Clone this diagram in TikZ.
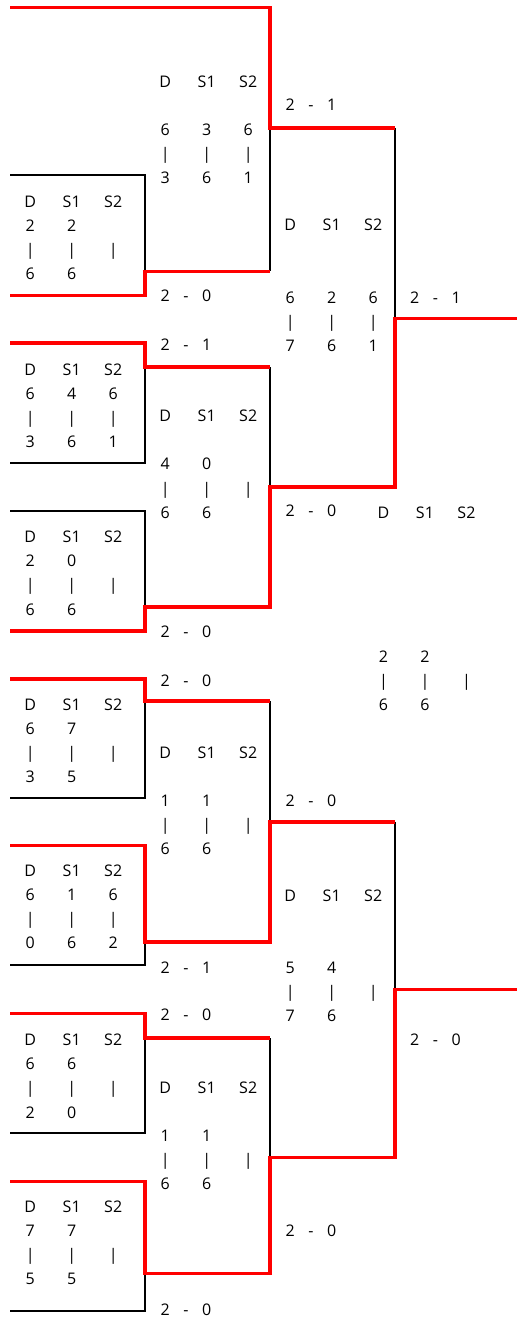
\documentclass[tikz,border=0pt]{standalone}
\usepackage{fontspec}
\setmainfont{Open Sans}
\usepackage{array}
\setlength\tabcolsep{0pt}
\newcolumntype{C}{w{c}{41.5pt}}
\newcommand\setscore[2]{\makebox[20.75pt]{#1}\makebox[20.75pt]{-}\makebox[20.75pt]{#2}}
\begin{document}
\begin{tikzpicture}[x=1pt,y=-1pt,
    every node/.style={font=\fontsize{16}{24.1}\selectfont,inner sep=0pt,anchor=base west},
    win/.style={red,line width=3.3pt},
    lose/.style={black,line width=2pt}]
    \useasboundingbox (0,0) rectangle (517,1321);
    \draw[lose] (10,175.5) -- (145,175.5) -- (145,271.5);
    \draw[lose] (270,271.5) -- (270,128);
    \draw[lose] (395,128) -- (395,318.5);
    \draw[lose] (145,367) -- (145,463) -- (10,463);
    \draw[lose] (10,511) -- (145,511) -- (145,607);
    \draw[lose] (270,367) -- (270,487);
    \draw[lose] (145,701) -- (145,798) -- (10,798);
    \draw[lose] (270,701) -- (270,822);
    \draw[lose] (145,942) -- (145,965) -- (10,965);
    \draw[lose] (395,822) -- (395,989.5);
    \draw[lose] (145,1038) -- (145,1133) -- (10,1133);
    \draw[lose] (270,1038) -- (270,1157.5);
    \draw[lose] (145,1273.5) -- (145,1311) -- (10,1311);
    \draw[win] (10,7.5) -- (270,7.5) -- (270,128) -- (395,128);
    \draw[win] (10,295.5) -- (145,295.5) -- (145,271.5) -- (270,271.5);
    \draw[win] (10,343) -- (145,343) -- (145,367) -- (270,367);
    \draw[win] (10,631) -- (145,631) -- (145,607) -- (270,607) -- (270,487)
        -- (395,487) -- (395,318.5) -- (517,318.5);
    \draw[win] (10,679) -- (145,679) -- (145,701) -- (270,701);
    \draw[win] (10,845.5) -- (145,845.5) -- (145,942) -- (270,942) -- (270,822) -- (395,822);
    \draw[win] (10,1013.5) -- (145,1013.5) -- (145,1038) -- (270,1038);
    \draw[win] (10,1181.5) -- (145,1181.5) -- (145,1273.5) -- (270,1273.5) -- (270,1157.5)
        -- (395,1157.5) -- (395,989.5) -- (517,989.5);
    \node (r1a) at (9.25,207.3) {\begin{tabular}[t]{@{}CCC@{}}D&S1&S2\\2&2&\\|&|&|\\6&6&\end{tabular}};
    \node (r1b) at (9.25,375) {\begin{tabular}[t]{@{}CCC@{}}D&S1&S2\\6&4&6\\|&|&|\\3&6&1\end{tabular}};
    \node (r1c) at (9.25,542.7) {\begin{tabular}[t]{@{}CCC@{}}D&S1&S2\\2&0&\\|&|&|\\6&6&\end{tabular}};
    \node (r1d) at (9.25,710) {\begin{tabular}[t]{@{}CCC@{}}D&S1&S2\\6&7&\\|&|&|\\3&5&\end{tabular}};
    \node (r1e) at (9.25,876) {\begin{tabular}[t]{@{}CCC@{}}D&S1&S2\\6&1&6\\|&|&|\\0&6&2\end{tabular}};
    \node (r1f) at (9.25,1045.7) {\begin{tabular}[t]{@{}CCC@{}}D&S1&S2\\6&6&\\|&|&|\\2&0&\end{tabular}};
    \node (r1g) at (9.25,1212.3) {\begin{tabular}[t]{@{}CCC@{}}D&S1&S2\\7&7&\\|&|&|\\5&5&\end{tabular}};
    \node (r2a) at (144.25,87.3) {\begin{tabular}[t]{@{}CCC@{}}D&S1&S2\\&&\\6&3&6\\|&|&|\\3&6&1\end{tabular}};
    \node (r2b) at (144.25,421.7) {\begin{tabular}[t]{@{}CCC@{}}D&S1&S2\\&&\\4&0&\\|&|&|\\6&6&\end{tabular}};
    \node (r2c) at (144.25,758.3) {\begin{tabular}[t]{@{}CCC@{}}D&S1&S2\\&&\\1&1&\\|&|&|\\6&6&\end{tabular}};
    \node (r2d) at (144.25,1093.3) {\begin{tabular}[t]{@{}CCC@{}}D&S1&S2\\&&\\1&1&\\|&|&|\\6&6&\end{tabular}};
    \node (sfa) at (269.25,231) {\begin{tabular}[t]{@{}CCC@{}}D&S1&S2\\&&\\&&\\6&2&6\\|&|&|\\7&6&1\end{tabular}};
    \node (sfb) at (269.25,901) {\begin{tabular}[t]{@{}CCC@{}}D&S1&S2\\&&\\&&\\5&4&\\|&|&|\\7&6&\end{tabular}};
    \node (fin) at (362.5,518) {\begin{tabular}[t]{@{}CCC@{}}D&S1&S2\\&&\\&&\\&&\\&&\\&&\\2&2&\\|&|&|\\6&6&\end{tabular}};
    \node (s1a) at (154.5,301.7) {\setscore{2}{0}};
    \node (s1b) at (154.5,350.7) {\setscore{2}{1}};
    \node (s1c) at (154.5,637.3) {\setscore{2}{0}};
    \node (s1d) at (154.5,686) {\setscore{2}{0}};
    \node (s1e) at (154.5,973.3) {\setscore{2}{1}};
    \node (s1f) at (154.5,1020.7) {\setscore{2}{0}};
    \node (s1g) at (154.5,1315) {\setscore{2}{0}};
    \node (s2a) at (279.5,111) {\setscore{2}{1}};
    \node (s2b) at (279.5,516.7) {\setscore{2}{0}};
    \node (s2c) at (279.5,806) {\setscore{2}{0}};
    \node (s2d) at (279.5,1236.7) {\setscore{2}{0}};
    \node (s3a) at (404.2,303.3) {\setscore{2}{1}};
    \node (s3b) at (404.2,1045) {\setscore{2}{0}};
\end{tikzpicture}
\end{document}
